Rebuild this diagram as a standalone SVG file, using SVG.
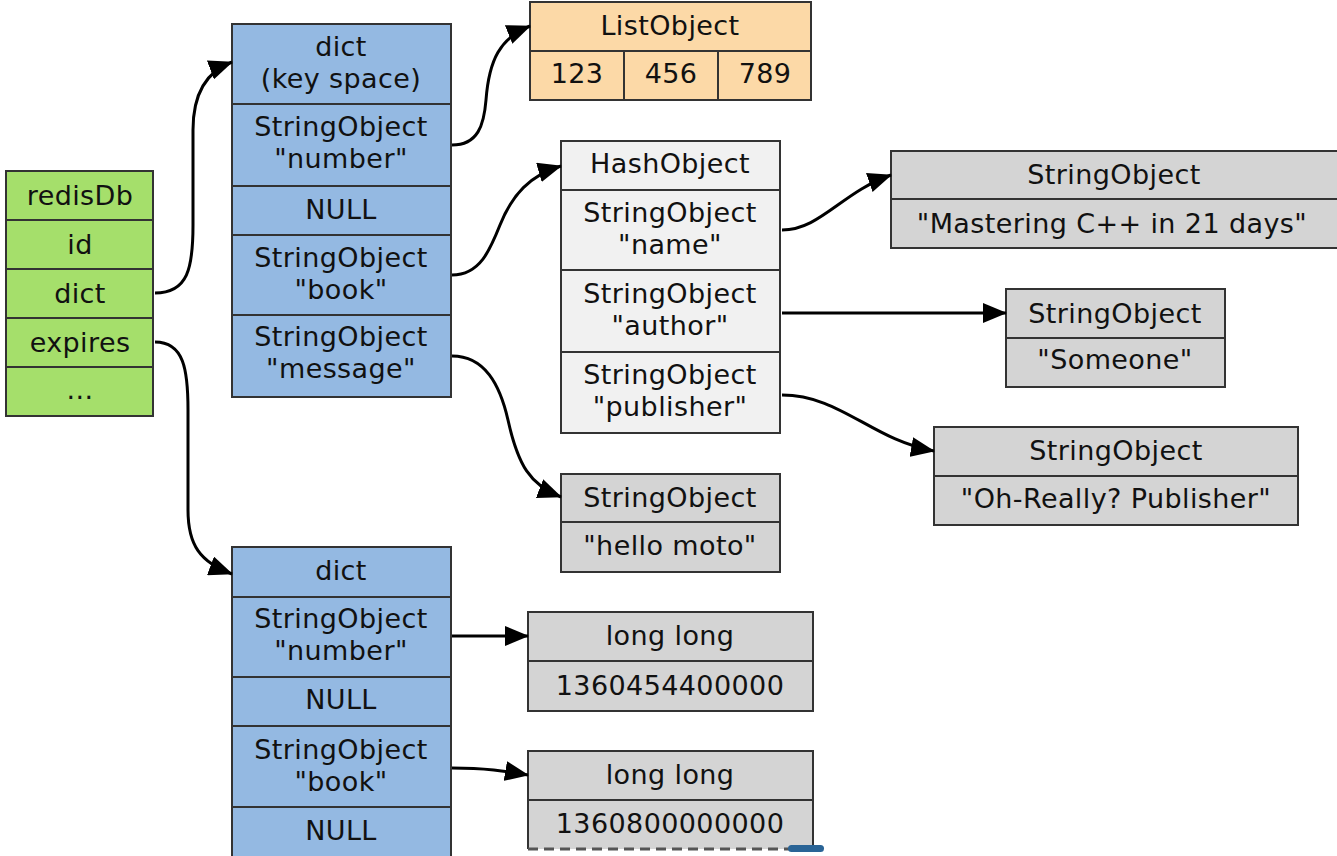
<svg xmlns="http://www.w3.org/2000/svg" width="1337" height="856" viewBox="0 0 1337 856">
<defs>
<style>
.b{stroke:#333;stroke-width:2}
.g{fill:#a5df6b}
.bl{fill:#94b9e2}
.or{fill:#fcd9a7}
.lt{fill:#f1f1f1}
.gr{fill:#d4d4d4}
.sep{stroke:#333;stroke-width:2;fill:none}
text{font-family:"DejaVu Sans","Noto Sans",sans-serif;font-size:27px;letter-spacing:0.4px;fill:#111;text-anchor:middle}
.c{fill:none;stroke:#000;stroke-width:3;marker-end:url(#ah)}
</style>
<marker id="ah" markerUnits="userSpaceOnUse" markerWidth="24" markerHeight="20" refX="23" refY="10" orient="auto" viewBox="0 0 24 20">
<path d="M0,0 L24,10 L0,20 Z" fill="#000"/>
</marker>
</defs>
<rect width="1337" height="856" fill="#fff"/>

<g id="redisDb">
<rect class="g b" x="6" y="171" width="147" height="245"/>
<path class="sep" d="M6,220H153M6,269H153M6,318H153M6,367H153"/>
<text x="80" y="205">redisDb</text>
<text x="80" y="254">id</text>
<text x="80" y="303">dict</text>
<text x="80" y="352">expires</text>
<text x="80" y="399">...</text>
</g>

<g id="keyspace">
<rect class="bl b" x="232" y="24" width="219" height="373"/>
<path class="sep" d="M232,104H451M232,186H451M232,235H451M232,315H451"/>
<text x="341" y="56">dict</text>
<text x="341" y="88">(key space)</text>
<text x="341" y="136">StringObject</text>
<text x="341" y="168">"number"</text>
<text x="341" y="219">NULL</text>
<text x="341" y="267">StringObject</text>
<text x="341" y="299">"book"</text>
<text x="341" y="346">StringObject</text>
<text x="341" y="378">"message"</text>
</g>

<g id="listobject">
<rect class="or b" x="530" y="2" width="281" height="98"/>
<path class="sep" d="M530,51H811M624,51V100M718,51V100"/>
<text x="670" y="35">ListObject</text>
<text x="577" y="83">123</text>
<text x="671" y="83">456</text>
<text x="765" y="83">789</text>
</g>

<g id="hashobject">
<rect class="lt b" x="561" y="141" width="219" height="292"/>
<path class="sep" d="M561,190H780M561,270H780M561,352H780"/>
<text x="670" y="173">HashObject</text>
<text x="670" y="222">StringObject</text>
<text x="670" y="254">"name"</text>
<text x="670" y="303">StringObject</text>
<text x="670" y="335">"author"</text>
<text x="670" y="384">StringObject</text>
<text x="670" y="416">"publisher"</text>
</g>

<g id="str-mastering">
<rect class="gr b" x="891" y="151" width="450" height="97"/>
<path class="sep" d="M891,199H1341"/>
<text x="1114" y="184">StringObject</text>
<text x="1112" y="233">"Mastering C++ in 21 days"</text>
</g>

<g id="str-someone">
<rect class="gr b" x="1006" y="289" width="219" height="98"/>
<path class="sep" d="M1006,338H1225"/>
<text x="1115" y="323">StringObject</text>
<text x="1115" y="369">"Someone"</text>
</g>

<g id="str-publisher">
<rect class="gr b" x="934" y="427" width="364" height="98"/>
<path class="sep" d="M934,476H1298"/>
<text x="1116" y="460">StringObject</text>
<text x="1116" y="508">"Oh-Really? Publisher"</text>
</g>

<g id="str-hellomoto">
<rect class="gr b" x="561" y="474" width="219" height="98"/>
<path class="sep" d="M561,522H780"/>
<text x="670" y="507">StringObject</text>
<text x="670" y="555">"hello moto"</text>
</g>

<g id="expires">
<rect class="bl b" x="232" y="547" width="219" height="320"/>
<path class="sep" d="M232,597H451M232,677H451M232,726H451M232,807H451"/>
<text x="341" y="580">dict</text>
<text x="341" y="628">StringObject</text>
<text x="341" y="660">"number"</text>
<text x="341" y="709">NULL</text>
<text x="341" y="759">StringObject</text>
<text x="341" y="791">"book"</text>
<text x="341" y="840">NULL</text>
</g>

<g id="longlong1">
<rect class="gr b" x="528" y="612" width="285" height="99"/>
<path class="sep" d="M528,661H813"/>
<text x="670" y="645">long long</text>
<text x="670" y="695">1360454400000</text>
</g>

<g id="longlong2">
<rect class="gr" x="528" y="751" width="285" height="98"/>
<path class="sep" d="M528,849V751H813V849M528,800H813"/>
<path d="M528,849H813" stroke="#555" stroke-width="3" stroke-dasharray="10,6" fill="none"/>
<text x="670" y="784">long long</text>
<text x="670" y="833">1360800000000</text>
</g>

<rect x="788" y="845" width="36" height="7" rx="3.5" fill="#2a6496"/>

<g id="connectors">
<path class="c" d="M155,293 C188,293 193,268 193,225 L193,130 C193,95 205,72 232,62"/>
<path class="c" d="M155,342 C184,342 188,370 188,410 L188,510 C188,545 200,562 232,574"/>
<path class="c" d="M452,145 C478,145 484,125 486,100 C489,60 500,38 530,26"/>
<path class="c" d="M452,275 C480,275 490,250 500,225 C512,195 530,175 561,166"/>
<path class="c" d="M452,356 C485,356 500,385 508,420 C518,465 530,485 561,497"/>
<path class="c" d="M782,230 C820,230 842,192 891,175"/>
<path class="c" d="M782,313 L1006,313"/>
<path class="c" d="M782,395 C840,395 872,440 934,451"/>
<path class="c" d="M452,636 L528,636"/>
<path class="c" d="M452,768 C485,768 505,771 528,775"/>
</g>
</svg>
